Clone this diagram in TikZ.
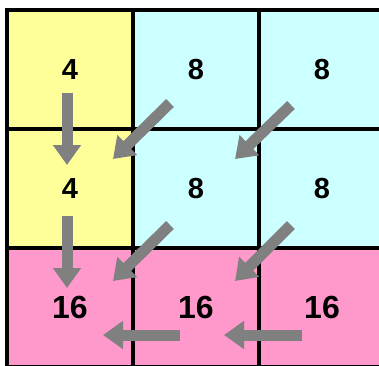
\documentclass[tikz,border=0pt]{standalone}
\usepackage{fontspec}
\setmainfont{Liberation Sans}
\usetikzlibrary{arrows.meta}

\definecolor{cellyellow}{HTML}{FFFF99}
\definecolor{cellcyan}{HTML}{CCFFFF}
\definecolor{cellpink}{HTML}{FF99CC}
\definecolor{flowgray}{HTML}{808080}

\tikzset{
  cell/.style={draw=black, line width=3.6pt, minimum width=126pt, minimum height=119pt,
    inner sep=0pt},
  num/.style={font=\fontsize{29}{34}\selectfont\bfseries},
  bignum/.style={font=\fontsize{32}{38}\selectfont\bfseries},
  flow/.style={flowgray, line width=11pt, -{Triangle[width=27pt,length=20pt]}},
}

\begin{document}
\begin{tikzpicture}[x=1pt, y=-1pt]
  \useasboundingbox (0,0) rectangle (379,365);
  \foreach \r/\y in {1/69.5, 2/188.5, 3/307.5} {
    \foreach \c/\x in {1/70, 2/196, 3/322} {
      \ifnum\r=3 \def\fc{cellpink}\def\v{16}\def\ns{bignum}\else
        \def\ns{num}%
        \ifnum\c=1 \def\fc{cellyellow}\def\v{4}\else \def\fc{cellcyan}\def\v{8}\fi
      \fi
      \node[cell, \ns, fill=\fc] (c\r\c) at (\x,\y) {\v};
    }
  }
  % arrow ends
  \coordinate (v1s) at (67,93);   \coordinate (v1e) at (67,165);
  \coordinate (v2s) at (67,216);  \coordinate (v2e) at (67,288);
  \coordinate (d1s) at (170,103); \coordinate (d1e) at (113,159);
  \coordinate (d2s) at (291,105); \coordinate (d2e) at (235,159);
  \coordinate (d3s) at (170,225); \coordinate (d3e) at (113,281);
  \coordinate (d4s) at (291,225); \coordinate (d4e) at (235,281);
  \coordinate (h1s) at (180,335); \coordinate (h1e) at (103,335);
  \coordinate (h2s) at (302,335); \coordinate (h2e) at (224,335);
  \foreach \a in {v1, v2, d1, d2, d3, d4, h1, h2}
    \draw[flow] (\a s) -- (\a e);
\end{tikzpicture}
\end{document}
